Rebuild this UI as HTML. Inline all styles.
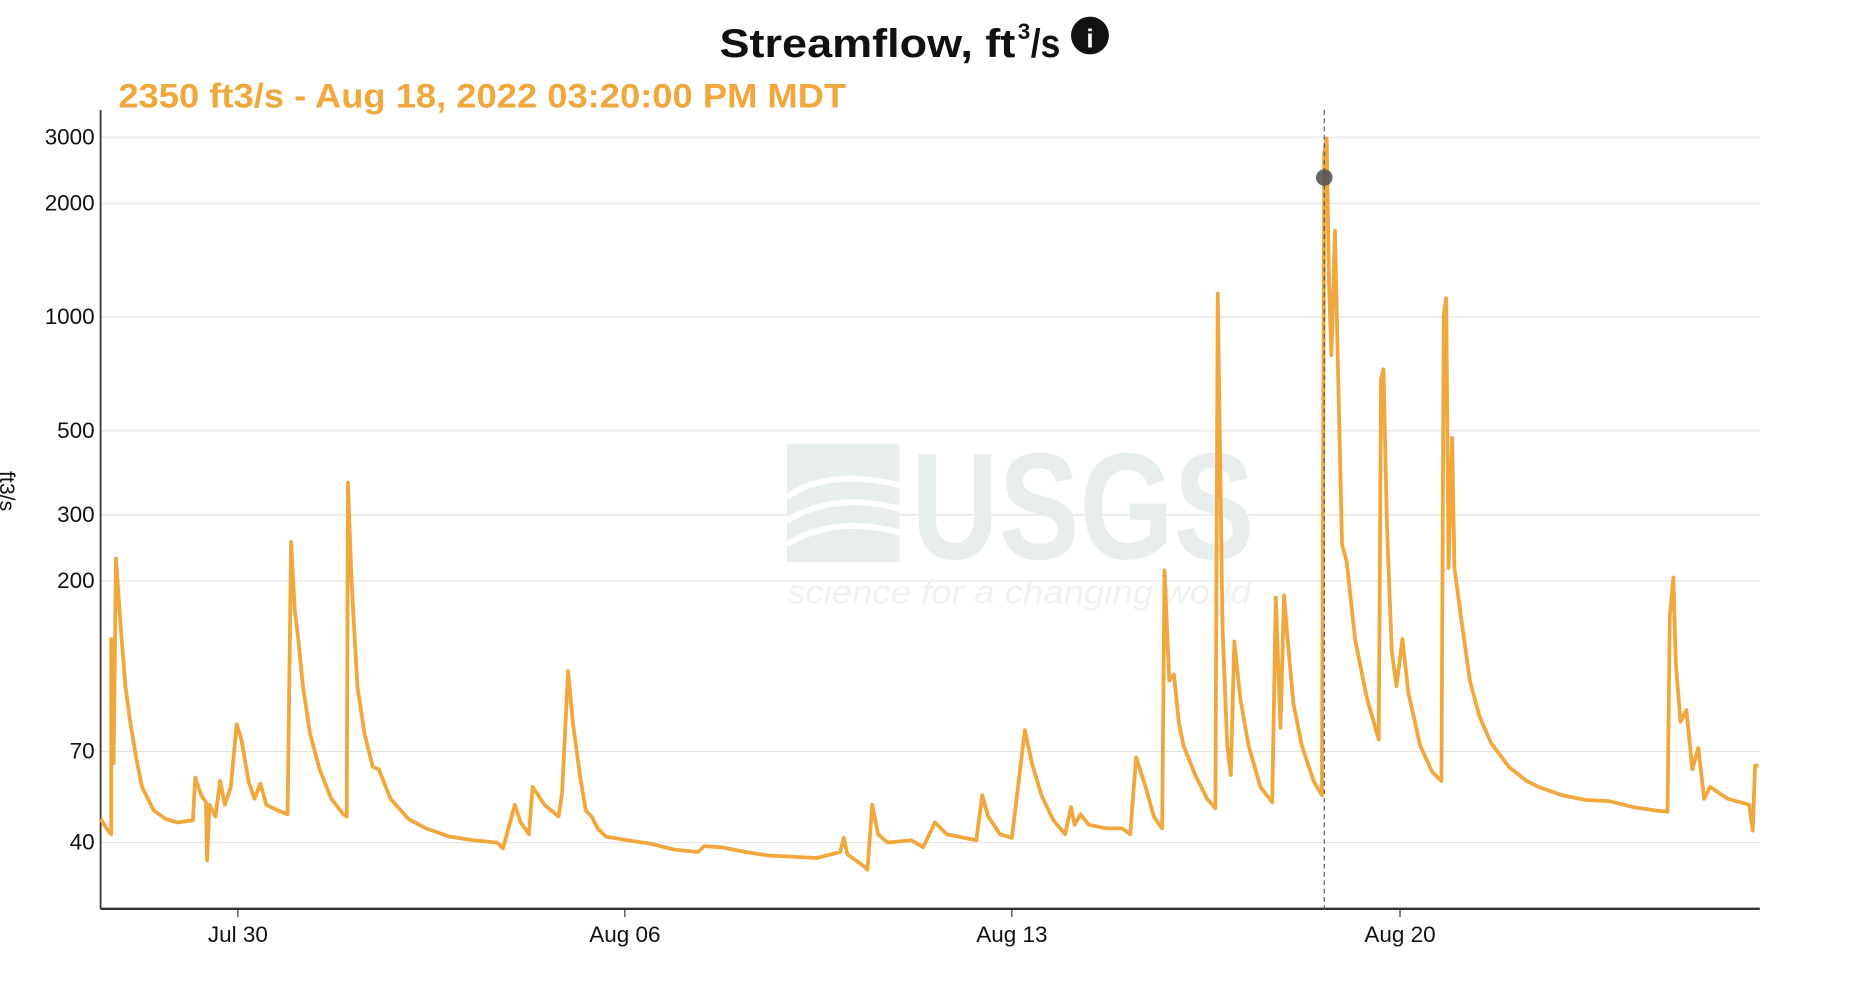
<!DOCTYPE html>
<html><head><meta charset="utf-8"><style>
html,body{margin:0;padding:0;background:#fff;width:1854px;height:986px;overflow:hidden}
svg{display:block}
text{font-family:"Liberation Sans",Arial,sans-serif}
</style></head><body>
<svg width="1854" height="986" viewBox="0 0 1566.6 833.2" preserveAspectRatio="none" xmlns="http://www.w3.org/2000/svg">
<rect width="1567" height="834" fill="#fff"/>
<text x="608" y="48" font-size="34" font-weight="bold" fill="#111" textLength="250" lengthAdjust="spacingAndGlyphs">Streamflow, ft</text>
<text x="860" y="33" font-size="19" font-weight="bold" fill="#111">3</text>
<text x="871" y="48" font-size="34" font-weight="bold" fill="#111" textLength="25" lengthAdjust="spacingAndGlyphs">/s</text>
<circle cx="921" cy="30" r="16" fill="#111"/>
<text x="921" y="40" text-anchor="middle" font-size="22" font-weight="bold" fill="#fff" font-family="Liberation Serif,serif">i</text>
<text x="100" y="91" font-size="29" font-weight="bold" fill="#f0a73c" textLength="615" lengthAdjust="spacingAndGlyphs">2350 ft3/s - Aug 18, 2022 03:20:00 PM MDT</text>
<g stroke="#e3e3e3" stroke-width="1">
<line x1="85" x2="1487" y1="116" y2="116"/><line x1="85" x2="1487" y1="172" y2="172"/>
<line x1="85" x2="1487" y1="268" y2="268"/><line x1="85" x2="1487" y1="364" y2="364"/>
<line x1="85" x2="1487" y1="435" y2="435"/><line x1="85" x2="1487" y1="491" y2="491"/>
<line x1="85" x2="1487" y1="635" y2="635"/><line x1="85" x2="1487" y1="712" y2="712"/>
</g>
<g>
<rect x="665" y="375" width="95" height="100" fill="#e8eeee"/>
<path d="M665 420 Q700 395 760 410 M665 440 Q705 415 760 430 M665 460 Q705 435 760 450" stroke="#fff" stroke-width="5" fill="none"/>
<text x="770" y="472" font-size="128" font-weight="bold" fill="#e8eeee" textLength="290" lengthAdjust="spacingAndGlyphs">USGS</text>
<text x="665" y="510" font-size="28" font-style="italic" fill="#eef2f2" textLength="392" lengthAdjust="spacingAndGlyphs">science for a changing world</text>
</g>
<g font-size="19" fill="#111" text-anchor="end">
<text x="80" y="122">3000</text><text x="80" y="178">2000</text><text x="80" y="274">1000</text>
<text x="80" y="370">500</text><text x="80" y="441">300</text><text x="80" y="497">200</text>
<text x="80" y="641">70</text><text x="80" y="718">40</text>
</g>
<text transform="translate(0,415) rotate(90)" font-size="18" text-anchor="middle" fill="#111">ft3/s</text>
<line x1="85" y1="93" x2="85" y2="768" stroke="#333" stroke-width="1.5"/>
<line x1="85" y1="768" x2="1487" y2="768" stroke="#333" stroke-width="2"/>
<g stroke="#333"><line x1="201" x2="201" y1="768" y2="775"/><line x1="528" x2="528" y1="768" y2="775"/><line x1="855" x2="855" y1="768" y2="775"/><line x1="1183" x2="1183" y1="768" y2="775"/></g>
<g font-size="19" fill="#111" text-anchor="middle">
<text x="201" y="796">Jul 30</text><text x="528" y="796">Aug 06</text><text x="855" y="796">Aug 13</text><text x="1183" y="796">Aug 20</text>
</g>
<polyline fill="none" stroke="#f0a73c" stroke-width="3.2" stroke-linejoin="round" points="85,692 90,700 94,705 94,540 96,645 98,472 102,530 106,580 110,610 115,640 120,665 130,685 140,692 150,695 163,693 165,657 170,672 174,678 175,727 177,680 182,690 186,660 190,680 195,665 200,612 204,625 210,660 215,675 220,662 225,680 235,685 243,688 246,458 249,515 252,540 256,580 262,620 270,650 280,675 290,688 293,690 294,408 297,490 302,580 308,620 315,648 320,650 330,675 345,692 360,700 380,707 400,710 420,712 425,717 435,680 440,695 447,705 450,665 460,680 472,690 475,670 480,567 484,610 490,655 495,685 500,690 505,700 512,707 530,710 550,713 570,718 590,720 595,715 610,716 630,720 650,723 670,724 690,725 710,720 713,708 716,722 730,732 733,735 737,680 742,705 750,712 770,710 780,716 790,695 800,705 815,708 825,710 830,672 835,690 845,705 855,708 866,617 872,645 880,672 890,693 900,705 905,682 908,697 913,688 920,697 935,700 948,700 955,705 960,640 968,665 975,690 982,700 984,482 988,575 992,570 996,610 1000,630 1010,655 1020,675 1027,683 1029,248 1033,530 1037,630 1040,655 1043,542 1048,590 1055,630 1065,665 1075,678 1078,505 1082,615 1085,503 1088,540 1093,595 1100,630 1110,660 1117,672 1119,130 1121,117 1123,240 1125,300 1128,195 1131,330 1134,460 1138,475 1145,540 1155,590 1165,625 1167,320 1169,312 1172,445 1176,550 1180,580 1185,540 1190,585 1200,630 1210,652 1218,660 1220,265 1222,252 1224,480 1227,370 1229,480 1235,525 1242,575 1250,605 1260,628 1275,648 1290,660 1300,665 1320,672 1340,676 1360,677 1380,682 1400,685 1409,686 1411,520 1414,488 1416,560 1420,610 1425,600 1430,650 1435,632 1440,675 1445,665 1460,675 1478,680 1481,702 1483,647 1486,647"/>
<line x1="1119" y1="93" x2="1119" y2="768" stroke="#555" stroke-width="1" stroke-dasharray="4,3"/>
<circle cx="1119" cy="150" r="7" fill="#555" opacity="0.9"/>
</svg>
</body></html>
